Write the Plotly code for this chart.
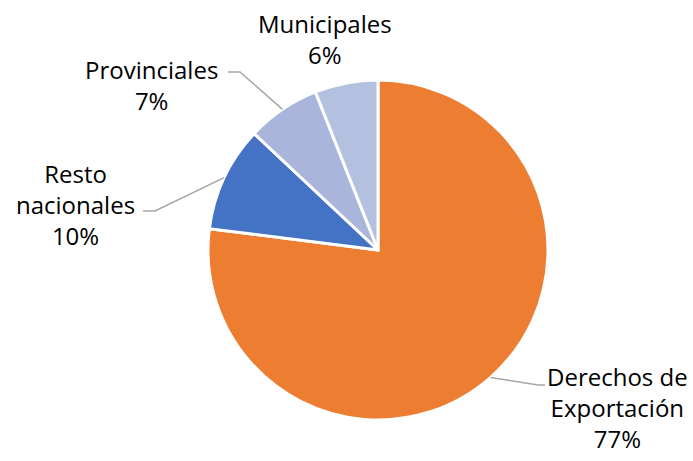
import math
import plotly.graph_objects as go

labels = ["Derechos de<br>Exportación", "Resto<br>nacionales", "Provinciales", "Municipales"]
values = [77, 10, 7, 6]
colors = ["#ED7D31", "#4472C4", "#A9B5DB", "#B4C0E0"]

W, H = 693, 461
cx, cy, R = 378, 250, 170

fig = go.Figure(go.Pie(
    labels=labels, values=values, sort=False, direction="clockwise", rotation=0,
    marker=dict(colors=colors, line=dict(color="white", width=3)),
    textinfo="none", hoverinfo="label+percent", showlegend=False,
    domain=dict(x=[(cx - R) / W, (cx + R) / W], y=[1 - (cy + R) / H, 1 - (cy - R) / H]),
))

def px(x):
    return x / W

def py(y):
    return 1 - y / H

# label layout: (text center x, middle y, elbow point, line end) in pixels
label_layout = [
    dict(tx=617, ty=407, elbow=(538, 385), end=(545, 385)),
    dict(tx=75, ty=204, elbow=(155, 211), end=(143, 211)),
    dict(tx=151, ty=85, elbow=(240, 72), end=(228, 72)),
    dict(tx=325, ty=39, elbow=None, end=None),
]

total = sum(values)
start = 0.0
font = dict(family="Open Sans, sans-serif", size=24, color="#000000")
for lab, v, lay in zip(labels, values, label_layout):
    frac = v / total
    mid = (start + frac / 2) * 2 * math.pi
    start += frac
    pct = f"{round(frac * 100)}%"
    fig.add_annotation(x=px(lay["tx"]), y=py(lay["ty"]), xref="paper", yref="paper",
                       text=f"{lab}<br>{pct}", showarrow=False, font=font,
                       xanchor="center", yanchor="middle", align="center")
    if lay["elbow"]:
        ex = cx + R * math.sin(mid)
        ey = cy - R * math.cos(mid)
        bx, by = lay["elbow"]
        fx, fy = lay["end"]
        fig.add_shape(type="path", xref="paper", yref="paper",
                      path=f"M {px(ex)} {py(ey)} L {px(bx)} {py(by)} L {px(fx)} {py(fy)}",
                      line=dict(color="#A6A6A6", width=1.5))

fig.update_layout(width=W, height=H, margin=dict(l=0, r=0, t=0, b=0),
                  paper_bgcolor="white", plot_bgcolor="white")
fig.write_html("out.html", config={"displayModeBar": False},
               post_script="document.body.style.margin='0';")
